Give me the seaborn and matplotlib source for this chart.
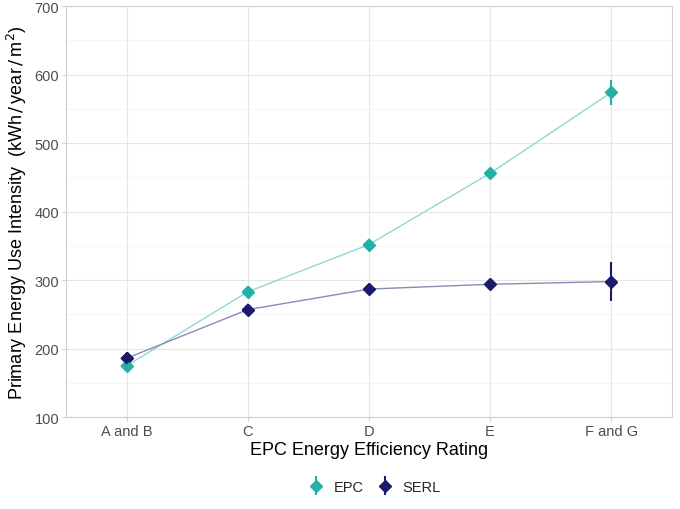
import numpy as np
import pandas as pd
import matplotlib
matplotlib.use("Agg")
import matplotlib.pyplot as plt
from matplotlib.ticker import MultipleLocator
from matplotlib.container import ErrorbarContainer
from matplotlib.legend_handler import HandlerErrorbar
import seaborn as sns

ratings = ["A and B", "C", "D", "E", "F and G"]
epc_values = [175, 283, 352, 456, 574]
epc_err = [3, 3, 3, 3, 18]
serl_values = [186, 257, 287, 294, 298]
serl_err = [9, 3, 3, 3, 29]
sources = ["EPC", "SERL"]

marker_colors = {"EPC": "#22B1A6", "SERL": "#1B1A6B"}
line_colors = {"EPC": "#8FD8D2", "SERL": "#8D89B6"}

df = pd.DataFrame({
    "rating": ratings * 2,
    "value": epc_values + serl_values,
    "err": epc_err + serl_err,
    "source": ["EPC"] * len(ratings) + ["SERL"] * len(ratings),
})
df["xpos"] = df["rating"].map({r: i for i, r in enumerate(ratings)})

sns.set_theme(style="whitegrid")
plt.rcParams["font.family"] = ["Liberation Sans", "DejaVu Sans"]

fig = plt.figure(figsize=(6.8, 5.1), dpi=100)
ax = fig.add_axes([0.097, 0.180, 0.891, 0.806])

sns.lineplot(data=df, x="xpos", y="value", hue="source", palette=line_colors,
             linewidth=1.0, legend=False, ax=ax, zorder=2)

handles = []
for s in sources:
    sub = df[df["source"] == s]
    h = ax.errorbar(sub["xpos"], sub["value"], yerr=sub["err"], fmt="D",
                    color=marker_colors[s], ecolor=marker_colors[s],
                    elinewidth=1.5, markersize=6.3, capsize=0, zorder=3,
                    label=s)
    handles.append(h)

sns.scatterplot(data=df, x="xpos", y="value", hue="source", palette=marker_colors,
                marker="D", s=40, linewidth=0, legend=False, ax=ax, zorder=4)

ax.set_xlim(-0.5, 4.5)
ax.set_ylim(100, 700)
ax.set_xticks(range(len(ratings)))
ax.set_xticklabels(ratings)
ax.yaxis.set_major_locator(MultipleLocator(100))
ax.yaxis.set_minor_locator(MultipleLocator(50))

ax.set_facecolor("white")
ax.grid(True, which="major", color="#E6E6E6", linewidth=0.8)
ax.grid(True, which="minor", axis="y", color="#F2F2F2", linewidth=0.5)
ax.set_axisbelow(True)
for sp in ax.spines.values():
    sp.set_color("#D0D0D0")
    sp.set_linewidth(0.8)

ax.tick_params(axis="both", which="major", labelsize=10.5, labelcolor="#4D4D4D",
               color="#D0D0D0", length=3, width=0.8, pad=2, left=True, bottom=True)
ax.tick_params(axis="y", which="minor", length=0, left=False)

ax.set_xlabel("EPC Energy Efficiency Rating", fontsize=13, color="black", labelpad=2)
ax.set_ylabel(r"Primary Energy Use Intensity  (kWh$\,/\,$year$\,/\,$m$^{2}$)",
              fontsize=13, color="black", labelpad=4)

leg = fig.legend(handles=handles, labels=sources, loc="center",
                 bbox_to_anchor=(0.55, 0.043), ncol=2, frameon=False,
                 fontsize=10.5, handlelength=1.2, handletextpad=0.6,
                 columnspacing=0.9,
                 handler_map={ErrorbarContainer: HandlerErrorbar(xerr_size=0.5, yerr_size=0.65)})

fig.savefig("out.png", dpi=100)
